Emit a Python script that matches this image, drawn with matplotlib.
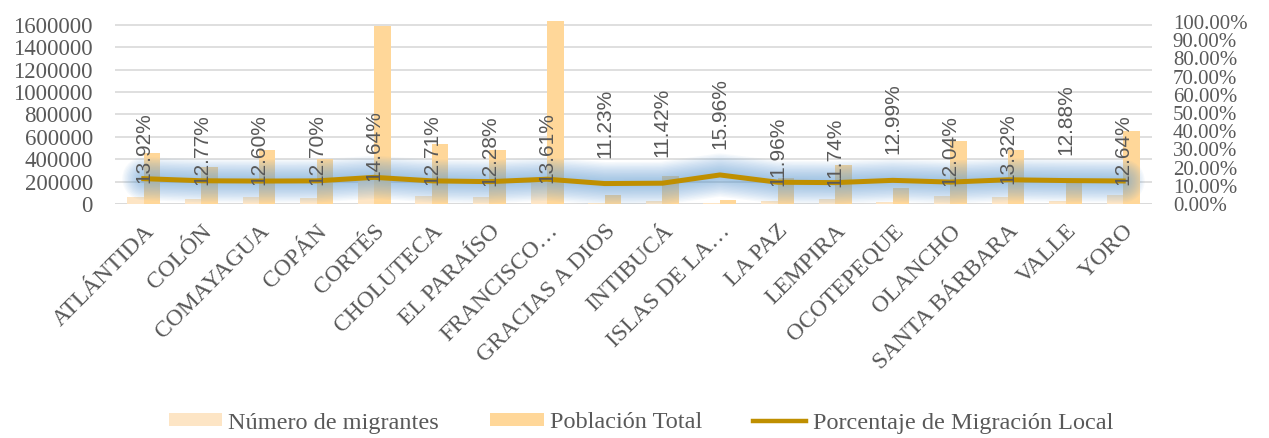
import matplotlib
matplotlib.use("Agg")
import matplotlib.pyplot as plt
import numpy as np
from matplotlib.lines import Line2D
from matplotlib.patches import Patch

departamentos = ["ATLÁNTIDA", "COLÓN", "COMAYAGUA", "COPÁN", "CORTÉS", "CHOLUTECA",
                 "EL PARAÍSO", "FRANCISCO…", "GRACIAS A DIOS", "INTIBUCÁ", "ISLAS DE LA…",
                 "LA PAZ", "LEMPIRA", "OCOTEPEQUE", "OLANCHO", "SANTA BÁRBARA", "VALLE", "YORO"]
poblacion_total = [458000, 327000, 485000, 405000, 1592000, 535000, 482000, 1637000, 78000,
                   250000, 36000, 235000, 348000, 143000, 562000, 482000, 192000, 652000]
numero_migrantes = [63800, 41800, 61100, 51400, 233000, 68000, 59200, 222800, 8800,
                    28500, 5700, 28100, 40900, 18600, 67700, 64200, 24700, 82400]
porcentaje = [13.92, 12.77, 12.60, 12.70, 14.64, 12.71, 12.28, 13.61, 11.23,
              11.42, 15.96, 11.96, 11.74, 12.99, 12.04, 13.32, 12.88, 12.64]
left_ticks = [0, 200000, 400000, 600000, 800000, 1000000, 1200000, 1400000, 1600000]
right_ticks = [0.0, 0.1, 0.2, 0.3, 0.4, 0.5, 0.6, 0.7, 0.8, 0.9, 1.0]
raised_labels = ["GRACIAS A DIOS", "INTIBUCÁ", "ISLAS DE LA…", "OCOTEPEQUE", "VALLE"]

C_MIG = "#FDE5C5"
C_POB = "#FFD799"
C_LINE = "#BF8F00"
C_GLOW = "#5B9BD5"
C_TXT = "#595959"
SERIF = ["Liberation Serif", "DejaVu Serif"]
SANS = ["Liberation Sans", "DejaVu Sans"]

fig = plt.figure(figsize=(12.69, 4.38), dpi=100)
ax = fig.add_axes([115/1269, 1-204/438, (1152-115)/1269, (204-20.3)/438])
ax2 = ax.twinx()

x = np.arange(len(departamentos))
w = 0.285
ax.bar(x - w/2, numero_migrantes, width=w, color=C_MIG, zorder=2)
ax.bar(x + w/2, poblacion_total, width=w, color=C_POB, zorder=2)

ax.set_xlim(-0.5, len(departamentos) - 0.5)
ax.set_ylim(0, 1640000)
ax.set_yticks(left_ticks)
ax.set_yticklabels([str(v) for v in left_ticks], fontfamily=SERIF, fontsize=16.5, color=C_TXT)
ax.tick_params(axis='y', length=0, pad=16)
ax.grid(axis='y', color="#D9D9D9", linewidth=1.2, zorder=0)
ax.set_axisbelow(True)
for s in ax.spines.values():
    s.set_visible(False)
for s in ax2.spines.values():
    s.set_visible(False)
ax.axhline(0, color="#D9D9D9", linewidth=1.2, zorder=1)

ax.set_xticks(x)
ax.set_xticklabels(departamentos, rotation=45, ha='right', rotation_mode='anchor',
                   fontfamily=SERIF, fontsize=17, color=C_TXT)
ax.tick_params(axis='x', length=0, pad=12)

pct = np.array(porcentaje) / 100.0
ax2.set_ylim(0, 1.009)
ax2.set_yticks(right_ticks)
ax2.set_yticklabels([f"{v*100:.2f}%" for v in right_ticks], fontfamily=SERIF, fontsize=15, color=C_TXT)
ax2.tick_params(axis='y', length=0, pad=15)

# soft glow around the line
for lw in np.arange(31, 3, -2):
    ax2.plot(x, pct, color=C_GLOW, linewidth=lw, alpha=0.05, solid_capstyle='round',
             solid_joinstyle='round', zorder=3)
ax2.plot(x, pct, color=C_LINE, linewidth=3.6, zorder=4, solid_joinstyle='round')

for xi, name, p in zip(x, departamentos, pct):
    off = 18.7 if name in raised_labels else -2.8
    ax2.annotate(f"{p*100:.2f}%", (xi, p), xytext=(0, off), textcoords='offset points',
                 rotation=90, ha='center', va='bottom', fontfamily=SANS, fontsize=15,
                 color=C_TXT, zorder=5)

handles = [Patch(facecolor=C_MIG, edgecolor='none'),
           Patch(facecolor=C_POB, edgecolor='none'),
           Line2D([0], [0], color=C_LINE, linewidth=3.2)]
labels = ["Número de migrantes", "Población Total", "Porcentaje de Migración Local"]
fig.legend(handles, labels, loc='center', bbox_to_anchor=(0.505, 1-423/438), ncol=3,
           frameon=False, prop={'family': SERIF, 'size': 17.5}, labelcolor=C_TXT,
           handlelength=2.2, handleheight=0.45, handletextpad=0.25, columnspacing=2.1)

fig.savefig("out.png", dpi=100, facecolor="white")
